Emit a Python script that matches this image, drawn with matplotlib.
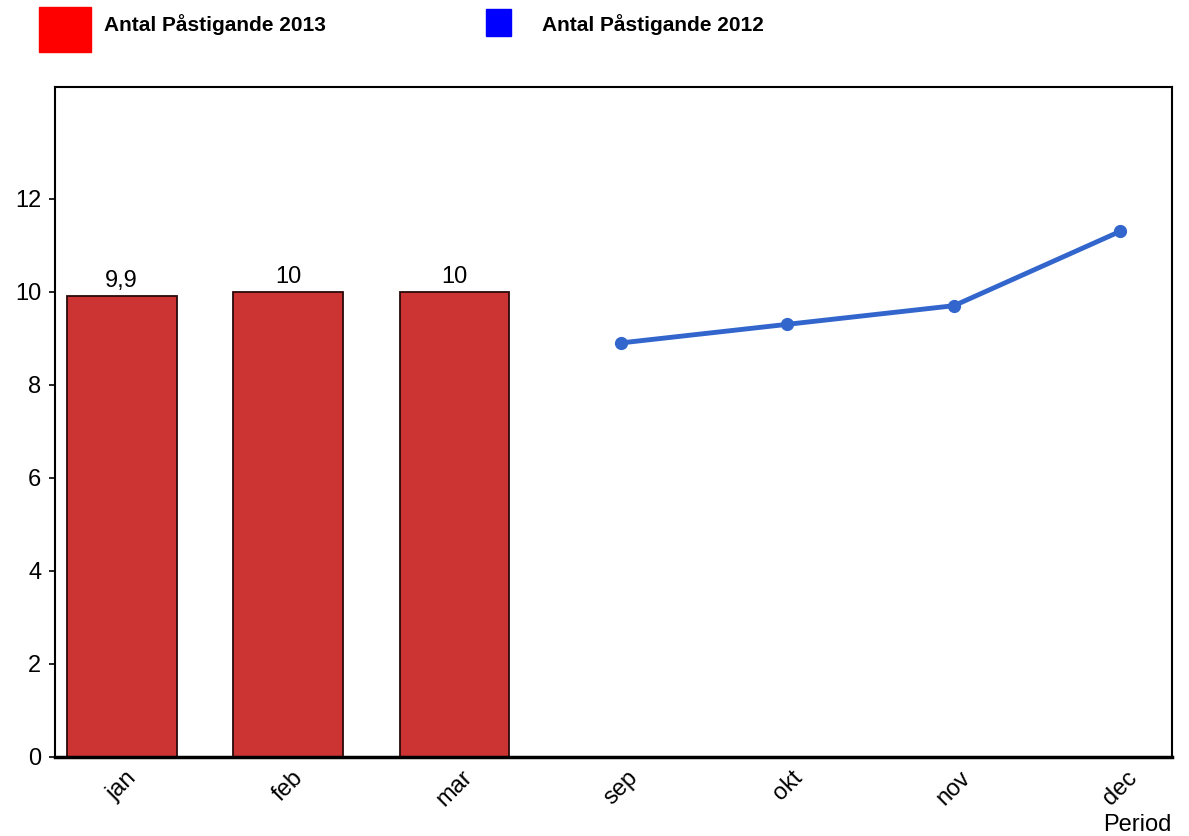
import matplotlib
matplotlib.use("Agg")
import matplotlib.pyplot as plt
from matplotlib.patches import Rectangle

plt.rcParams['font.family'] = ['Liberation Sans', 'DejaVu Sans']

# data
months = ['jan', 'feb', 'mar', 'sep', 'okt', 'nov', 'dec']
bar_months = ['jan', 'feb', 'mar']
bar_values = [9.9, 10.0, 10.0]
bar_labels = ['9,9', '10', '10']
line_months = ['sep', 'okt', 'nov', 'dec']
line_values = [8.9, 9.3, 9.7, 11.3]
yticks = [0, 2, 4, 6, 8, 10, 12]

fig = plt.figure(figsize=(11.89, 8.36), dpi=100)
ax = fig.add_axes([0.0463, 0.0945, 0.9394, 0.8014])

xpos = {m: i for i, m in enumerate(months)}
bx = [xpos[m] for m in bar_months]
lx = [xpos[m] for m in line_months]

bars = ax.bar(bx, bar_values, width=0.66, color='#CC3333', edgecolor='#2a0a0a', linewidth=1.3)
ax.bar_label(bars, labels=bar_labels, padding=3, fontsize=17)

ax.plot(lx, line_values, color='#3366CC', linewidth=3.5, marker='o', markersize=8.5)

ax.set_xlim(-0.4, 6.31)
ax.set_ylim(0, 14.4)
ax.set_yticks(yticks)
ax.set_xticks(range(len(months)))
ax.set_xticklabels(months, rotation=45, ha='center', va='top')
ax.tick_params(axis='both', labelsize=17, length=4, width=1.2)
ax.tick_params(axis='y', pad=6)
ax.tick_params(axis='x', length=0, pad=7)
for s in ax.spines.values():
    s.set_linewidth(1.5)
ax.spines['bottom'].set_linewidth(2.5)
ax.set_xlabel('Period', loc='right', fontsize=17, labelpad=2)

# legend drawn at the top
fig.patches.append(Rectangle((39 / 1189, 1 - 52 / 836), 52 / 1189, 45 / 836,
                             transform=fig.transFigure, color='#FF0000'))
fig.text(104 / 1189, 1 - 25 / 836, 'Antal Påstigande 2013', fontsize=15,
         fontweight='bold', va='center', ha='left')
fig.patches.append(Rectangle((486 / 1189, 1 - 36 / 836), 25 / 1189, 27 / 836,
                             transform=fig.transFigure, color='#0000FF'))
fig.text(542 / 1189, 1 - 25 / 836, 'Antal Påstigande 2012', fontsize=15,
         fontweight='bold', va='center', ha='left')

fig.savefig('out.png', dpi=100)
